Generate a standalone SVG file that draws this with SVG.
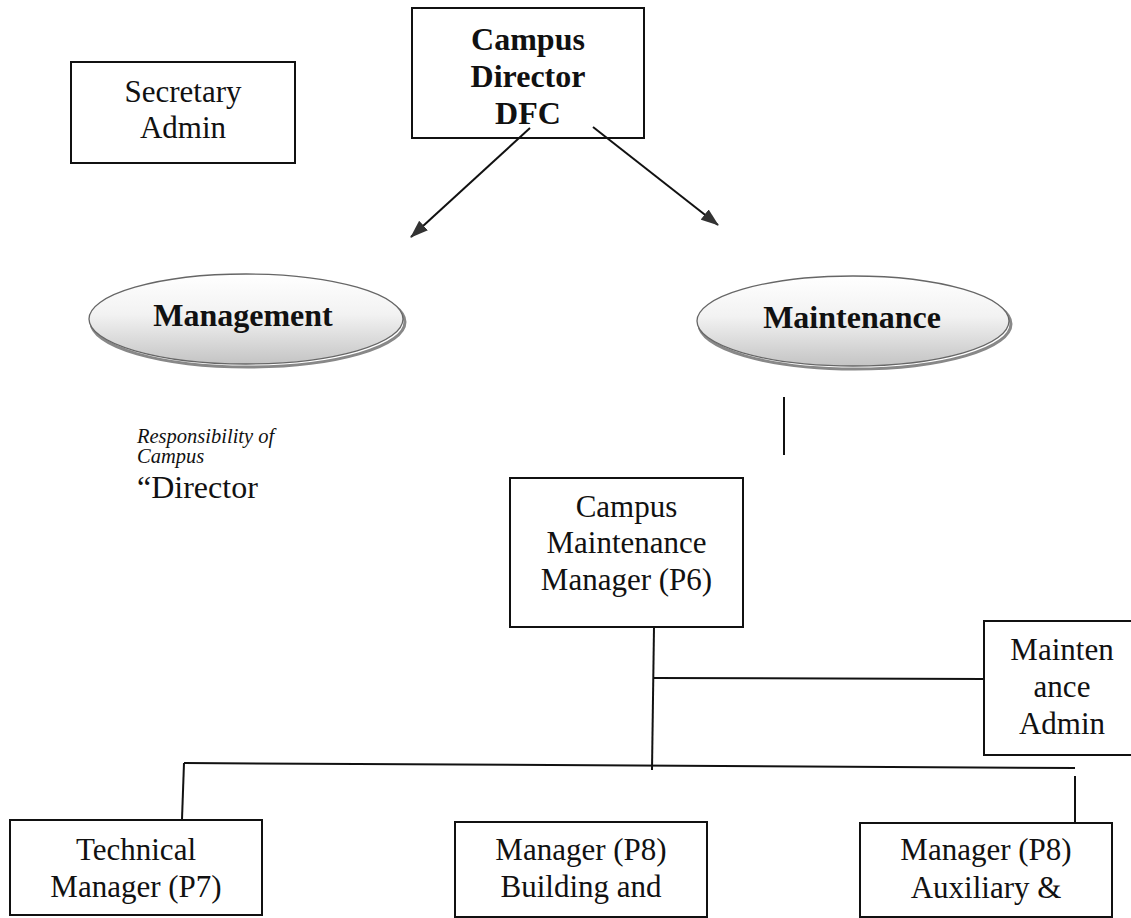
<svg xmlns="http://www.w3.org/2000/svg" width="1131" height="918" viewBox="0 0 1131 918">
<style>
.box{fill:#fff;stroke:#111;stroke-width:2}
.t{font-family:"Liberation Serif","Times New Roman",serif;font-size:31px;fill:#111;text-anchor:middle}
.b{font-weight:bold;font-size:32px}
.ln{stroke:#111;stroke-width:2;fill:none}
.ov{fill:url(#og);stroke:#666;stroke-width:1.3}
.sh{fill:none;stroke:#888;stroke-width:3}
.it{font-family:"Liberation Serif","Times New Roman",serif;font-style:italic;font-size:20.5px;fill:#111}
</style>
<defs>
<linearGradient id="og" x1="0" y1="0" x2="0" y2="1">
<stop offset="0" stop-color="#ffffff"/>
<stop offset="0.45" stop-color="#f2f2f2"/>
<stop offset="1" stop-color="#c4c4c4"/>
</linearGradient>
<marker id="ah2" viewBox="0 0 18 13" refX="17" refY="6.5" markerWidth="18" markerHeight="13" markerUnits="userSpaceOnUse" orient="auto">
<path d="M0,0 L18,6.5 L0,13 z" fill="#333"/>
</marker>
</defs>
<rect width="1131" height="918" fill="#fff"/>

<g id="secretary">
<rect class="box" x="71" y="62" width="224" height="101"/>
<text class="t" x="183" y="102">Secretary</text>
<text class="t" x="183" y="138">Admin</text>
</g>

<g id="director">
<rect class="box" x="412" y="8" width="232" height="130"/>
<text class="t b" x="528" y="50">Campus</text>
<text class="t b" x="528" y="87">Director</text>
<text class="t b" x="528" y="124">DFC</text>
</g>

<g id="management">
<ellipse class="sh" cx="248" cy="322" rx="157" ry="45"/>
<ellipse class="ov" cx="246" cy="319" rx="157" ry="45"/>
<text class="t b" x="243" y="326">Management</text>
</g>

<g id="maintenance">
<ellipse class="sh" cx="855" cy="324" rx="156" ry="45"/>
<ellipse class="ov" cx="853" cy="321" rx="156" ry="45"/>
<text class="t b" x="852" y="328">Maintenance</text>
</g>

<g id="note">
<text class="it" x="137" y="443">Responsibility of</text>
<text class="it" x="137" y="463">Campus</text>
<text class="t" x="137" y="498" style="text-anchor:start;font-size:32px">“Director</text>
</g>

<g id="cmm">
<rect class="box" x="510" y="478" width="233" height="149"/>
<text class="t" x="626.5" y="517">Campus</text>
<text class="t" x="626.5" y="553">Maintenance</text>
<text class="t" x="626.5" y="590">Manager (P6)</text>
</g>

<g id="maint-admin">
<rect class="box" x="984" y="621" width="148" height="134"/>
<text class="t" x="1062" y="660">Mainten</text>
<text class="t" x="1062" y="697">ance</text>
<text class="t" x="1062" y="734">Admin</text>
</g>

<g id="technical">
<rect class="box" x="10" y="820" width="252" height="95"/>
<text class="t" x="136" y="860">Technical</text>
<text class="t" x="136" y="897">Manager (P7)</text>
</g>

<g id="building">
<rect class="box" x="455" y="822" width="252" height="95"/>
<text class="t" x="581" y="860">Manager (P8)</text>
<text class="t" x="581" y="897">Building and</text>
</g>

<g id="auxiliary">
<rect class="box" x="860" y="823" width="252" height="94"/>
<text class="t" x="986" y="860">Manager (P8)</text>
<text class="t" x="986" y="898">Auxiliary &amp;</text>
</g>

<g id="connectors">
<line class="ln" x1="530" y1="128" x2="411" y2="237" marker-end="url(#ah2)"/>
<line class="ln" x1="593" y1="127" x2="718" y2="225" marker-end="url(#ah2)"/>
<line class="ln" x1="784" y1="397" x2="784" y2="455"/>
<line class="ln" x1="654" y1="627" x2="652" y2="770"/>
<line class="ln" x1="654" y1="678" x2="984" y2="679"/>
<line class="ln" x1="184" y1="763" x2="1075" y2="768"/>
<line class="ln" x1="184" y1="763" x2="182" y2="819"/>
<line class="ln" x1="1075" y1="776" x2="1075" y2="823"/>
</g>
</svg>
